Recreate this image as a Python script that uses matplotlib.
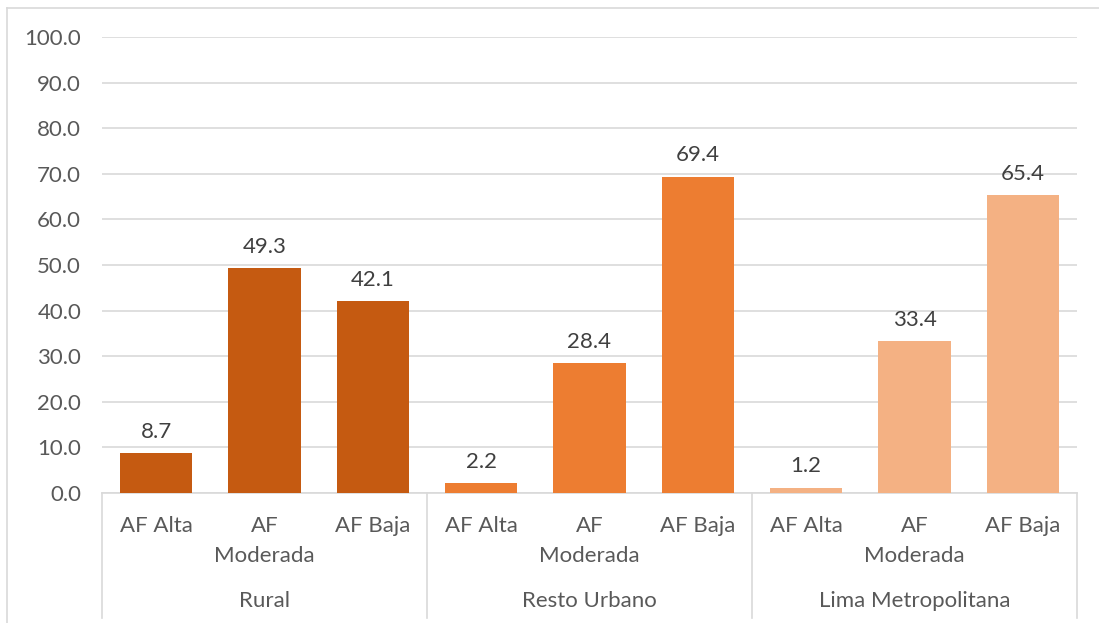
import matplotlib.pyplot as plt
from matplotlib.lines import Line2D

plt.rcParams["font.family"] = ["Lato", "DejaVu Sans"]

grupos = ["Rural", "Resto Urbano", "Lima Metropolitana"]
niveles = ["AF Alta", "AF\nModerada", "AF Baja"]
rural = [8.7, 49.3, 42.1]
resto_urbano = [2.2, 28.4, 69.4]
lima = [1.2, 33.4, 65.4]
colores = ["#C55A11", "#ED7D31", "#F4B183"]

W, H = 1099, 623
fig = plt.figure(figsize=(W / 100, H / 100), dpi=100)
ax = fig.add_axes([102 / W, 1 - 493 / H, (1077 - 102) / W, (493 - 37) / H])

gris = "#D9D9D9"
texto = "#595959"
fs = 16

pos = 0
for serie, color in zip([rural, resto_urbano, lima], colores):
    xs = list(range(pos, pos + len(serie)))
    barras = ax.bar(xs, serie, width=0.67, color=color, zorder=3)
    for b, v in zip(barras, serie):
        ax.annotate(f"{v:.1f}", (b.get_x() + b.get_width() / 2, v),
                    xytext=(0, 8), textcoords="offset points",
                    ha="center", va="bottom", fontsize=fs, color="#404040")
    pos += len(serie)

ax.set_xlim(-0.5, pos - 0.5)
ax.set_ylim(0, 100)
ax.set_yticks(range(0, 101, 10))
ax.set_yticklabels([f"{t:.1f}" for t in range(0, 101, 10)])
ax.tick_params(axis="y", length=0, pad=15, labelsize=fs, labelcolor=texto)
ax.tick_params(axis="x", length=0, labelbottom=False)
ax.grid(axis="y", color=gris, linewidth=1.2, zorder=0)
for s in ["top", "right", "left"]:
    ax.spines[s].set_visible(False)
ax.spines["bottom"].set_color(gris)
ax.spines["bottom"].set_linewidth(1.2)

tr = ax.get_xaxis_transform()
alto = (493 - 37)
y_sub = -(516 - 493) / alto
y_grp = -(601 - 493) / alto
y_fin = -(618 - 493) / alto

for i in range(pos):
    ax.text(i, y_sub, niveles[i % 3], transform=tr, ha="center", va="top",
            fontsize=fs, color=texto, linespacing=1.6)

for g, nombre in enumerate(grupos):
    ax.text(g * 3 + 1, y_grp, nombre, transform=tr, ha="center", va="center",
            fontsize=fs, color=texto)

for xb in [-0.5, 2.5, 5.5, 8.5]:
    ax.add_line(Line2D([xb, xb], [0, y_fin], transform=tr, color=gris,
                       linewidth=1.2, clip_on=False))

# borde del gráfico
fig.add_artist(Line2D([7 / W, 7 / W], [0, 1 - 8 / H], color=gris, linewidth=1.2))
fig.add_artist(Line2D([7 / W, 1], [1 - 8 / H, 1 - 8 / H], color=gris, linewidth=1.2))

fig.savefig("out.png", dpi=100)
